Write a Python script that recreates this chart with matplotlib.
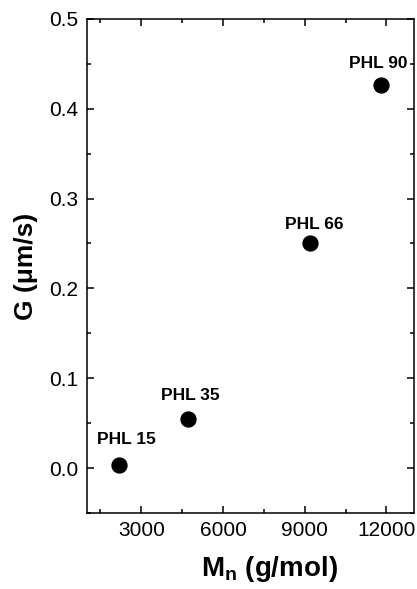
"""Growth rate G versus molecular weight Mn for the PHL samples."""

import matplotlib

matplotlib.use("Agg")
import matplotlib.pyplot as plt
from matplotlib.ticker import MultipleLocator

plt.rcParams["font.family"] = ["Liberation Sans", "DejaVu Sans"]
plt.rcParams["mathtext.fontset"] = "custom"
plt.rcParams["mathtext.rm"] = "Liberation Sans:bold"
plt.rcParams["mathtext.bf"] = "Liberation Sans:bold"

# data
samples = ["PHL 15", "PHL 35", "PHL 66", "PHL 90"]
mn_values = [2200, 4700, 9200, 11800]
g_values = [0.003, 0.055, 0.250, 0.426]

x_ticks = [3000, 6000, 9000, 12000]
y_ticks = [0.0, 0.1, 0.2, 0.3, 0.4, 0.5]

# label offsets in points (dx, dy), style only
label_offsets = [(5, 19), (2, 17), (3, 14), (-2, 16)]

fig = plt.figure(figsize=(4.17, 5.89), dpi=100)
ax = fig.add_axes([0.208, 0.129, 0.784, 0.839])

ax.scatter(mn_values, g_values, s=115, color="black", zorder=3)
for name, x, y, off in zip(samples, mn_values, g_values, label_offsets):
    ax.annotate(name, (x, y), xytext=off, textcoords="offset points",
                ha="center", va="center", fontsize=12.5, fontweight="bold")

ax.set_xlim(1000, 13000)
ax.set_ylim(-0.05, 0.5)
ax.set_xticks(x_ticks)
ax.set_xticklabels([str(v) for v in x_ticks])
ax.set_yticks(y_ticks)
ax.set_yticklabels([f"{v:.1f}" for v in y_ticks])
ax.xaxis.set_minor_locator(MultipleLocator(1500))
ax.yaxis.set_minor_locator(MultipleLocator(0.05))

ax.tick_params(which="both", direction="in", top=True, right=True, width=1.1)
ax.tick_params(which="major", length=5, labelsize=15, pad=6)
ax.tick_params(which="minor", length=3)
for spine in ax.spines.values():
    spine.set_linewidth(1.1)

ax.set_xlabel(r"M$_{\mathbf{n}}$ (g/mol)", fontsize=20, fontweight="bold")
ax.xaxis.set_label_coords(0.56, -0.082)
ax.set_ylabel("G (μm/s)", fontsize=19, fontweight="bold", labelpad=8)

fig.savefig("out.png", dpi=100)
